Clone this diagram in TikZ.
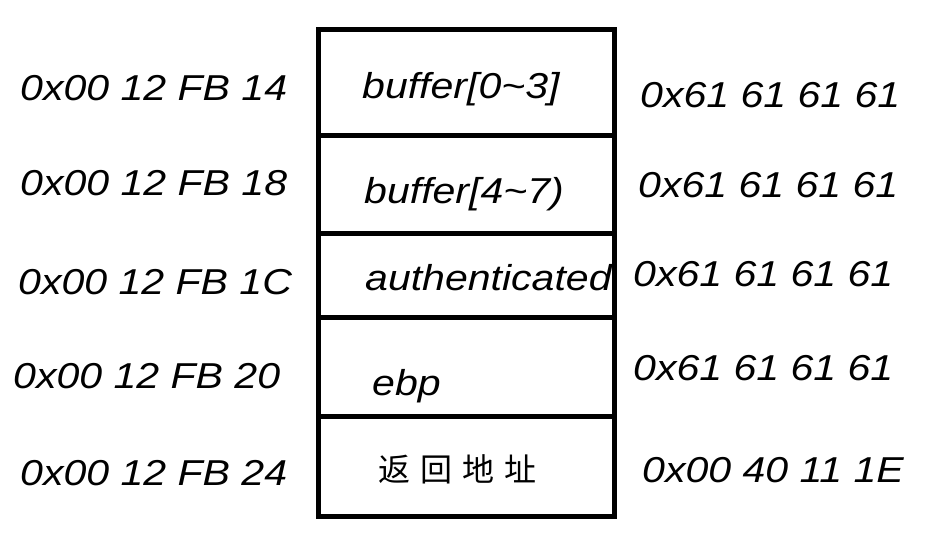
\documentclass[tikz,border=0pt]{standalone}
\usepackage{fontspec}
\newfontfamily\hand{Liberation Sans}[FakeStretch=1.14]
\newfontfamily\cjk{Noto Sans CJK SC}
\tikzset{
  cell/.style={draw=black, line width=4.5pt, minimum width=296pt, inner sep=0pt, anchor=north west},
  lbl/.style={anchor=base west, inner sep=0pt, font=\hand\itshape\fontsize{36}{40}\selectfont},
  cjklbl/.style={anchor=base west, inner sep=0pt, font=\cjk\fontsize{32}{36}\selectfont},
}
\begin{document}
\begin{tikzpicture}[x=1pt,y=-1pt]
\useasboundingbox (0,0) rectangle (945,542);
% stack cells
\node[cell, minimum height=106pt] (c1) at (316,27) {};
\node[cell, minimum height=98pt]  (c2) at (316,133) {};
\node[cell, minimum height=84pt]  (c3) at (316,231) {};
\node[cell, minimum height=99pt]  (c4) at (316,315) {};
\node[cell, minimum height=100pt] (c5) at (316,414) {};
% contents
\node[lbl] (m1) at (362,98) {buffer[0\char`~3]};
\node[lbl] (m2) at (364,203) {buffer[4\char`~7)};
\node[lbl] (m3) at (365,290) {authenticated};
\node[lbl] (m4) at (372,395) {ebp};
\node[cjklbl] (m5) at (378,481) {返\hspace{10pt}回\hspace{10pt}地\hspace{10pt}址};
% addresses
\node[lbl] (a1) at (20,100) {0x00 12 FB 14};
\node[lbl] (a2) at (20,195) {0x00 12 FB 18};
\node[lbl] (a3) at (18,294) {0x00 12 FB 1C};
\node[lbl] (a4) at (13,388) {0x00 12 FB 20};
\node[lbl] (a5) at (20,485) {0x00 12 FB 24};
% values
\node[lbl] (v1) at (640,107) {0x61 61 61 61};
\node[lbl] (v2) at (638,197) {0x61 61 61 61};
\node[lbl] (v3) at (633,286) {0x61 61 61 61};
\node[lbl] (v4) at (633,380) {0x61 61 61 61};
\node[lbl] (v5) at (642,482) {0x00 40 11 1E};
\end{tikzpicture}
\end{document}
